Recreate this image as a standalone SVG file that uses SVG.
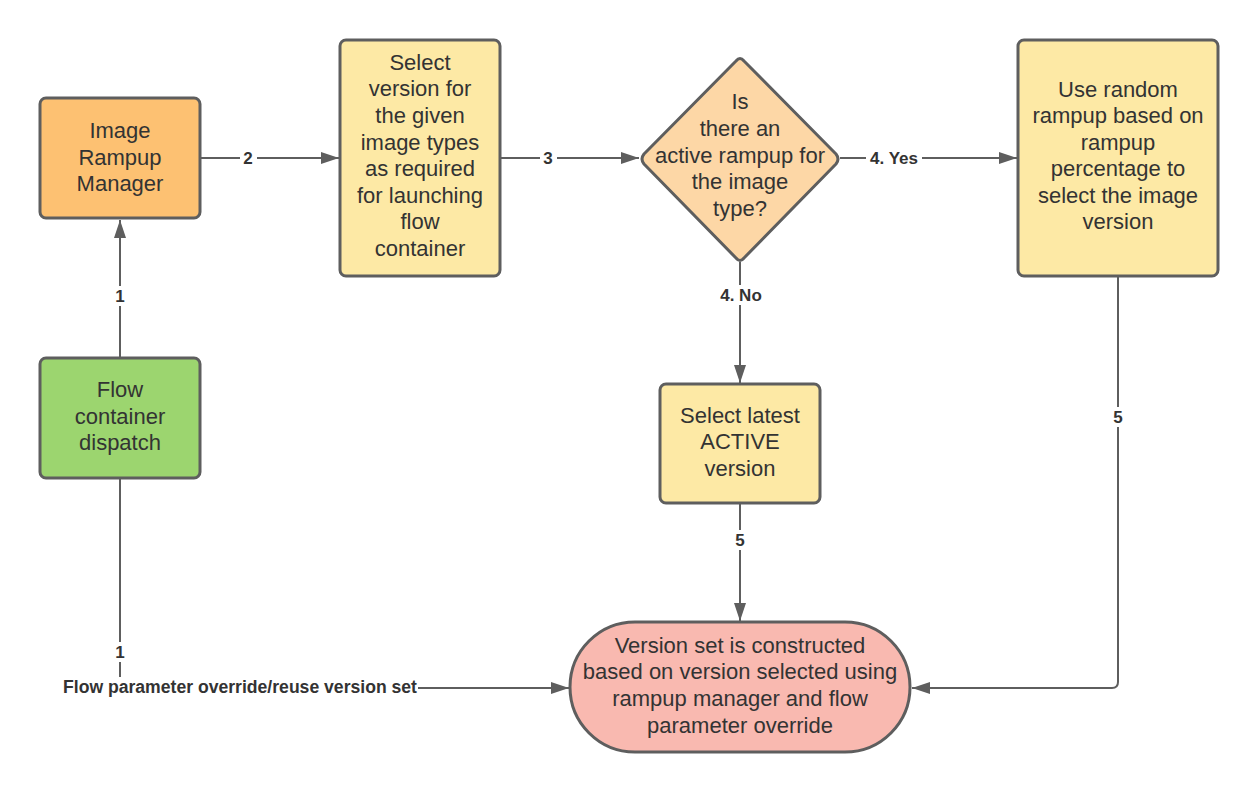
<svg xmlns="http://www.w3.org/2000/svg" width="1259" height="793" viewBox="0 0 1259 793">
<style>
.node{stroke:#5e5e5e;stroke-width:3}
.t{font-family:"Liberation Sans",Arial,sans-serif;font-size:22px;fill:#333;text-anchor:middle}
.lb{font-family:"Liberation Sans",Arial,sans-serif;font-size:17px;font-weight:bold;fill:#333;text-anchor:middle}
.c{fill:none;stroke:#5e5e5e;stroke-width:2}
.bg{fill:#fff}
</style>
<defs>
<marker id="ah" viewBox="0 0 18 12" refX="18" refY="6" markerWidth="18" markerHeight="12" markerUnits="userSpaceOnUse" orient="auto">
<path d="M0,0 L18,6 L0,12 Z" fill="#5e5e5e"/>
</marker>
</defs>
<rect width="1259" height="793" fill="#fff"/>
<g id="connectors">
<path class="c" d="M120,358 V220" marker-end="url(#ah)"/>
<path class="c" d="M200,158 H339" marker-end="url(#ah)"/>
<path class="c" d="M500,158 H639" marker-end="url(#ah)"/>
<path class="c" d="M840,158 H1017" marker-end="url(#ah)"/>
<path class="c" d="M740,262 V383" marker-end="url(#ah)"/>
<path class="c" d="M740,503 V621" marker-end="url(#ah)"/>
<path class="c" d="M1118,276 V682 Q1118,688 1112,688 H912" marker-end="url(#ah)"/>
<path class="c" d="M120,478 V688 H569" marker-end="url(#ah)"/>
<rect class="bg" x="111" y="286" width="18" height="20"/>
<text class="lb" x="120" y="302">1</text>
<rect class="bg" x="240" y="148" width="17" height="20"/>
<text class="lb" x="248" y="164">2</text>
<rect class="bg" x="540" y="148" width="17" height="20"/>
<text class="lb" x="548" y="164">3</text>
<rect class="bg" x="866" y="148" width="56" height="20"/>
<text class="lb" x="894" y="164">4. Yes</text>
<rect class="bg" x="715" y="285" width="52" height="20"/>
<text class="lb" x="741" y="301">4. No</text>
<rect class="bg" x="731" y="530" width="18" height="20"/>
<text class="lb" x="740" y="546">5</text>
<rect class="bg" x="1109" y="407" width="18" height="20"/>
<text class="lb" x="1118" y="423">5</text>
<rect class="bg" x="111" y="642" width="18" height="20"/>
<text class="lb" x="120" y="658">1</text>
<rect class="bg" x="60" y="677" width="358" height="22"/>
<text class="lb" x="240" y="693" style="font-size:17.6px">Flow parameter override/reuse version set</text>
</g>
<g id="image-rampup-manager">
<rect class="node" x="40" y="98" width="160" height="120" rx="6" fill="#FDC172"/>
<text class="t" x="120" y="138">Image</text>
<text class="t" x="120" y="165">Rampup</text>
<text class="t" x="120" y="191">Manager</text>
</g>
<g id="select-version">
<rect class="node" x="340" y="40" width="160" height="236" rx="6" fill="#FDE9A5"/>
<text class="t" x="420" y="70">Select</text>
<text class="t" x="420" y="96">version for</text>
<text class="t" x="420" y="123">the given</text>
<text class="t" x="420" y="150">image types</text>
<text class="t" x="420" y="176">as required</text>
<text class="t" x="420" y="203">for launching</text>
<text class="t" x="420" y="229">flow</text>
<text class="t" x="420" y="256">container</text>
</g>
<g id="decision">
<path class="node" d="M736,61 Q740,56 744,61 L836,154 Q840,159 836,164 L744,258 Q740,263 736,258 L644,164 Q640,159 644,154 Z" fill="#FDD7A6" stroke-linejoin="round"/>
<text class="t" x="740" y="109">Is</text>
<text class="t" x="740" y="136">there an</text>
<text class="t" x="740" y="163">active rampup for</text>
<text class="t" x="740" y="189">the image</text>
<text class="t" x="740" y="216">type?</text>
</g>
<g id="random-rampup">
<rect class="node" x="1018" y="40" width="200" height="236" rx="6" fill="#FDE9A5"/>
<text class="t" x="1118" y="97">Use random</text>
<text class="t" x="1118" y="123">rampup based on</text>
<text class="t" x="1118" y="150">rampup</text>
<text class="t" x="1118" y="176">percentage to</text>
<text class="t" x="1118" y="203">select the image</text>
<text class="t" x="1118" y="229">version</text>
</g>
<g id="flow-container-dispatch">
<rect class="node" x="40" y="358" width="160" height="120" rx="6" fill="#9CD56F"/>
<text class="t" x="120" y="397">Flow</text>
<text class="t" x="120" y="424">container</text>
<text class="t" x="120" y="450">dispatch</text>
</g>
<g id="select-latest">
<rect class="node" x="660" y="384" width="160" height="119" rx="6" fill="#FDE9A5"/>
<text class="t" x="740" y="423">Select latest</text>
<text class="t" x="740" y="449">ACTIVE</text>
<text class="t" x="740" y="476">version</text>
</g>
<g id="version-set">
<rect class="node" x="570" y="622" width="340" height="130" rx="65" fill="#F9B9B0"/>
<text class="t" x="740" y="653">Version set is constructed</text>
<text class="t" x="740" y="679">based on version selected using</text>
<text class="t" x="740" y="706">rampup manager and flow</text>
<text class="t" x="740" y="733">parameter override</text>
</g>
</svg>
